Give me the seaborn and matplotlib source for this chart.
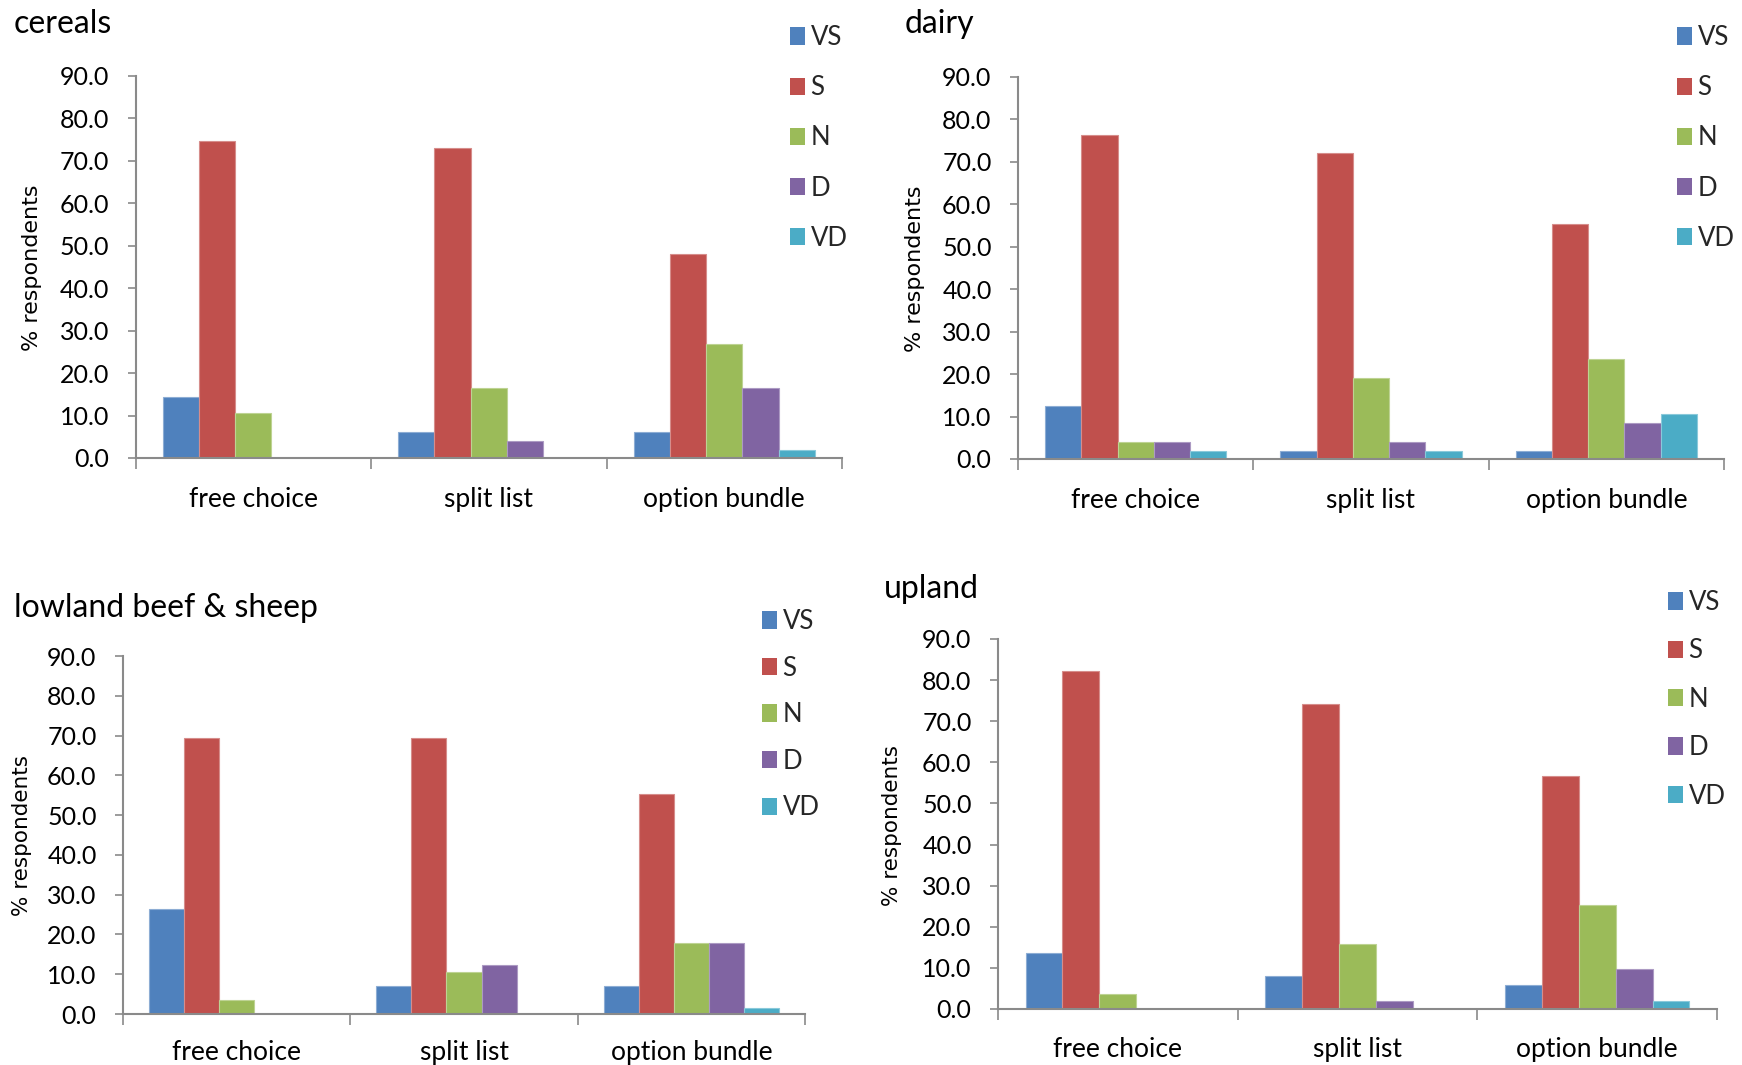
import numpy as np
import pandas as pd
import matplotlib
matplotlib.use("Agg")
import matplotlib.pyplot as plt
import matplotlib.colors as mcolors
from matplotlib.patches import Rectangle
import seaborn as sns

# ---------------- data ----------------
schemes = ["free choice", "split list", "option bundle"]
responses = ["VS", "S", "N", "D", "VD"]
colors = ["#4F81BD", "#C0504D", "#9BBB59", "#8064A2", "#4BACC6"]

cereals_VS = [14.4, 6.2, 6.2]
cereals_S = [74.6, 73.0, 48.0]
cereals_N = [10.5, 16.6, 26.9]
cereals_D = [0.0, 4.1, 16.6]
cereals_VD = [0.0, 0.0, 2.0]

dairy_VS = [12.6, 1.9, 1.9]
dairy_S = [76.4, 72.1, 55.3]
dairy_N = [4.1, 19.2, 23.5]
dairy_D = [4.1, 4.1, 8.4]
dairy_VD = [1.9, 1.9, 10.6]

lowland_VS = [26.4, 7.1, 7.1]
lowland_S = [69.5, 69.5, 55.3]
lowland_N = [3.6, 10.5, 17.8]
lowland_D = [0.0, 12.3, 17.8]
lowland_VD = [0.0, 0.0, 1.4]

upland_VS = [13.6, 8.0, 5.9]
upland_S = [82.1, 74.3, 56.7]
upland_N = [3.7, 15.7, 25.3]
upland_D = [0.0, 2.0, 9.7]
upland_VD = [0.0, 0.0, 1.9]

titles = ["cereals", "dairy", "lowland beef & sheep", "upland"]
yticks = [0, 10, 20, 30, 40, 50, 60, 70, 80, 90]
ylabel = "% respondents"

panels = [
    [cereals_VS, cereals_S, cereals_N, cereals_D, cereals_VD],
    [dairy_VS, dairy_S, dairy_N, dairy_D, dairy_VD],
    [lowland_VS, lowland_S, lowland_N, lowland_D, lowland_VD],
    [upland_VS, upland_S, upland_N, upland_D, upland_VD],
]

# ---------------- layout (pixels of a 1742x1065 figure) ----------------
W, H = 1742, 1065
# left, right, top(90), bottom(0)
axes_px = [
    (135.5, 842, 76, 458),
    (1018, 1724, 77, 459),
    (123, 805, 656, 1014),
    (998, 1717, 639, 1009),
]
title_px = [(14, 33), (905, 33), (14, 617), (884, 598)]
ylabel_px = [(32, 268), (915, 269), (22, 836), (892, 825)]
xlab_pad = [21, 21, 18.5, 20.5]
legend_px = [(790, 25, 0.98), (1677, 25, 0.98), (762, 609, 0.84), (1668, 590, 0.91)]

sns.set_theme(style="white")
plt.rcParams["font.family"] = ["Lato", "DejaVu Sans"]

fig = plt.figure(figsize=(W / 100, H / 100), dpi=100)
spine_col = "#8a8a8a"

def lighten(c, amt=0.35):
    r, g, b = mcolors.to_rgb(c)
    return (r + (1 - r) * amt, g + (1 - g) * amt, b + (1 - b) * amt)

for i, vals in enumerate(panels):
    l, r, t, b = axes_px[i]
    ax = fig.add_axes([l / W, 1 - b / H, (r - l) / W, (b - t) / H])
    rows = []
    for resp, series in zip(responses, vals):
        for sch, v in zip(schemes, series):
            rows.append({"scheme": sch, "response": resp, "pct": v})
    df = pd.DataFrame(rows)
    sns.barplot(data=df, x="scheme", y="pct", hue="response",
                order=schemes, hue_order=responses, palette=colors,
                width=0.77, errorbar=None, legend=False, ax=ax,
                saturation=1)
    for p in ax.patches:
        fc = p.get_facecolor()
        if p.get_height() <= 0:
            p.set_linewidth(0)
        else:
            p.set_edgecolor(lighten(fc))
            p.set_linewidth(0.8)

    ax.set_ylim(0, 90)
    ax.set_xlim(-0.5, 2.5)
    ax.set_yticks(yticks)
    ax.set_yticklabels([f"{v:.1f}" for v in yticks])
    ax.set_xticks([-0.5, 0.5, 1.5, 2.5])
    ax.set_xticklabels([])
    ax.set_xticks([0, 1, 2], minor=True)
    ax.set_xticklabels(schemes, minor=True)
    ax.tick_params(axis="x", which="major", length=8, width=1.2, color=spine_col,
                   direction="out", bottom=True)
    ax.tick_params(axis="x", which="minor", length=0, pad=xlab_pad[i],
                   labelsize=19, labelcolor="black")
    ax.tick_params(axis="y", length=6, width=1.2, color=spine_col,
                   direction="out", left=True, pad=13, labelsize=18,
                   labelcolor="black")
    ax.set_xlabel("")
    ax.set_ylabel("")
    for s in ["top", "right"]:
        ax.spines[s].set_visible(False)
    for s in ["left", "bottom"]:
        ax.spines[s].set_color(spine_col)
        ax.spines[s].set_linewidth(1.5)
    ax.set_facecolor("white")

    tx, ty = title_px[i]
    fig.text(tx / W, 1 - ty / H, titles[i], fontsize=23, ha="left",
             va="baseline", color="black")
    lx, ly = ylabel_px[i]
    fig.text(lx / W, 1 - ly / H, ylabel, rotation=90, ha="center",
             va="center", fontsize=16 if i < 2 else 15.5,
             family=["DejaVu Sans"], color="black")

    gx, gy, sp = legend_px[i]
    handles = [Rectangle((0, 0), 1, 1, facecolor=c, edgecolor="none")
               for c in colors]
    fig.legend(handles, responses, loc="upper left",
               bbox_to_anchor=(gx / W, 1 - gy / H), frameon=False,
               fontsize=18.5, handlelength=0.6, handleheight=0.66,
               handletextpad=0.2, labelspacing=sp, borderpad=0,
               borderaxespad=0)

fig.savefig("out.png", dpi=100, facecolor="white")
